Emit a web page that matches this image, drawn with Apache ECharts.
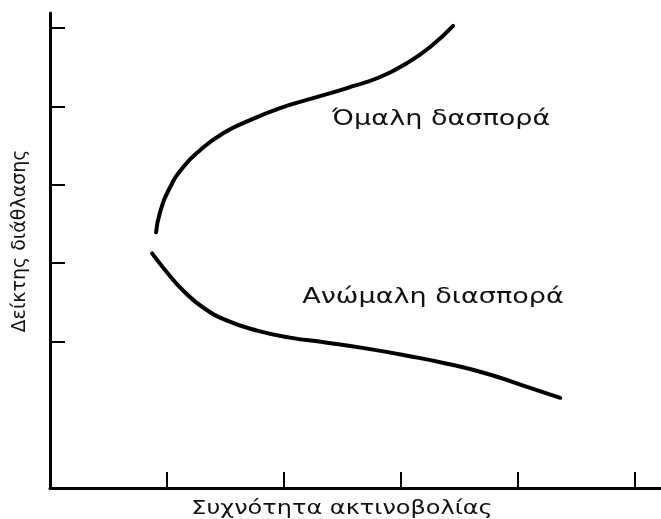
<!DOCTYPE html>
<html>
<head>
<meta charset="utf-8">
<script src="https://cdn.jsdelivr.net/npm/echarts@6/dist/echarts.min.js"></script>
<style>
  html, body { margin: 0; padding: 0; background: #ffffff; }
  #chart { width: 661px; height: 519px; }
</style>
</head>
<body>
<div id="chart"></div>
<script>
// Schematic of refractive index against radiation frequency
const xTicks = [1, 2, 3, 4, 5];
const yTicks = [1, 2, 3, 4, 5];

// Normal dispersion branch: [frequency, index]
const normalBranch = [
  [0.906, 2.393], [0.940, 2.649], [1.026, 2.968], [1.137, 3.224],
  [1.282, 3.441], [1.479, 3.658], [1.709, 3.824], [1.966, 3.978],
  [2.248, 4.105], [2.538, 4.233], [2.821, 4.374], [3.051, 4.553],
  [3.248, 4.757], [3.444, 5.026]
];

// Anomalous dispersion branch
const anomalousBranch = [
  [0.872, 2.125], [1.000, 1.882], [1.137, 1.652], [1.308, 1.435],
  [1.513, 1.268], [1.769, 1.141], [2.051, 1.051], [2.368, 0.987],
  [2.709, 0.911], [3.051, 0.821], [3.393, 0.719], [3.735, 0.591],
  [4.043, 0.438], [4.359, 0.284]
];

// Curve captions anchored at their left edge
const captions = [
  { text: 'Όμαλη δασπορά', at: [2.41, 3.84] },
  { text: 'Ανώμαλη διασπορά', at: [2.154, 1.56] }
];

const xTitle = 'Συχνότητα ακτινοβολίας';
const yTitle = 'Δείκτης διάθλασης';

const FONT = '"DejaVu Sans"';
const chart = echarts.init(document.getElementById('chart'));

const lineSeries = (data) => ({
  type: 'line',
  data: data,
  smooth: 0.5,
  showSymbol: false,
  symbol: 'none',
  silent: true,
  lineStyle: { color: '#000', width: 4, cap: 'round', join: 'round' }
});

const GRID = { left: 50, right: 0, top: 13, bottom: 31 };

chart.setOption({
  backgroundColor: '#ffffff',
  animation: false,
  grid: Object.assign({ containLabel: false }, GRID),
  // Axis titles, drawn slightly stretched to a wide geometric face
  graphic: [
    {
      type: 'text',
      x: 342,
      y: 509,
      scaleX: 1.2,
      silent: true,
      style: { text: xTitle, font: '20px ' + FONT, fill: '#111', align: 'center', verticalAlign: 'middle' }
    },
    {
      type: 'text',
      x: 20,
      y: 241,
      rotation: Math.PI / 2,
      scaleX: 0.95,
      silent: true,
      style: { text: yTitle, font: '20px ' + FONT, fill: '#111', align: 'center', verticalAlign: 'middle' }
    }
  ],
  xAxis: {
    type: 'value',
    min: 0,
    max: 5.22,
    axisLine: { show: true, onZero: false, lineStyle: { color: '#000', width: 3 } },
    axisTick: { show: true, inside: true, length: 16, customValues: xTicks, lineStyle: { color: '#000', width: 2 } },
    axisLabel: { show: false },
    splitLine: { show: false }
  },
  yAxis: {
    type: 'value',
    min: -0.866,
    max: 5.19,
    axisLine: { show: true, onZero: false, lineStyle: { color: '#000', width: 3 } },
    axisTick: { show: true, inside: true, length: 15, customValues: yTicks, lineStyle: { color: '#000', width: 2 } },
    axisLabel: { show: false },
    splitLine: { show: false }
  },
  series: [
    lineSeries(normalBranch),
    lineSeries(anomalousBranch),
    {
      type: 'custom',
      silent: true,
      data: captions.map(c => [c.at[0], c.at[1]]),
      renderItem: function (params, api) {
        const p = api.coord([api.value(0), api.value(1)]);
        return {
          type: 'text',
          x: p[0],
          y: p[1],
          scaleX: 1.23,
          style: {
            text: captions[params.dataIndex].text,
            font: '22px ' + FONT,
            fill: '#111',
            align: 'left',
            verticalAlign: 'middle'
          }
        };
      }
    }
  ]
});
</script>
</body>
</html>
